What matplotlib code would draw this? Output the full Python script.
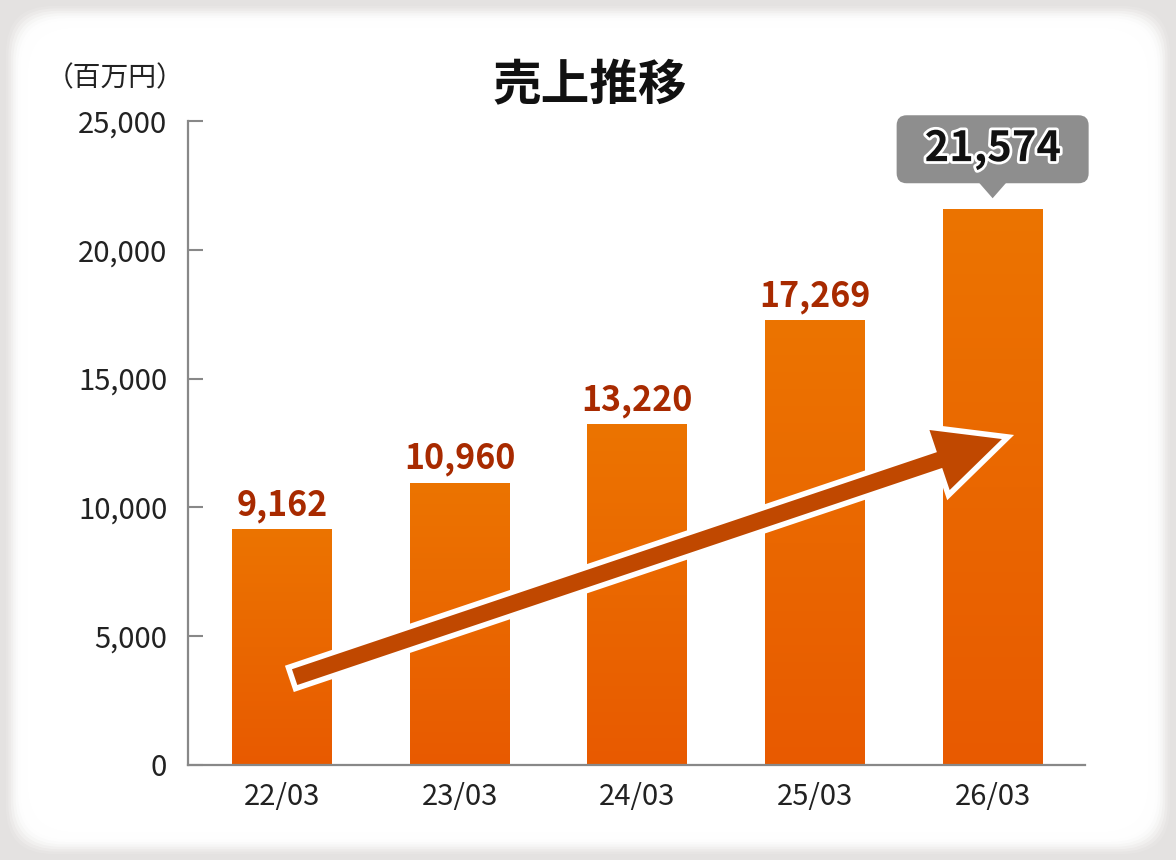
import numpy as np
import matplotlib
matplotlib.use("Agg")
import matplotlib.pyplot as plt
from matplotlib.patches import FancyBboxPatch, Polygon
from matplotlib.transforms import IdentityTransform
import matplotlib.patheffects as pe

years = ["22/03", "23/03", "24/03", "25/03", "26/03"]
sales = [9162, 10960, 13220, 17269, 21574]
yticks = [0, 5000, 10000, 15000, 20000, 25000]

FONT = ["Noto Sans CJK JP", "DejaVu Sans"]
plt.rcParams["font.family"] = FONT

W, H = 1176, 860
fig = plt.figure(figsize=(W / 100, H / 100), dpi=100)
fig.patch.set_facecolor("#e4e2e1")

# soft white panel with blurred edge
for i, a in enumerate(np.linspace(0.12, 1.0, 10)):
    inset = 6 + i * 2.4
    p = FancyBboxPatch((inset / W, inset / H), 1 - 2 * inset / W, 1 - 2 * inset / H,
                       boxstyle="round,pad=0,rounding_size=0.04",
                       transform=fig.transFigure, facecolor="white",
                       edgecolor="none", alpha=a, zorder=-5,
                       mutation_aspect=W / H)
    fig.patches.append(p)

ax = fig.add_axes([188 / W, 95 / H, (1085 - 188) / W, (765 - 121) / H])
ax.set_facecolor("none")

x = np.arange(len(years))
bars = ax.bar(x, sales, width=0.5625, color="#ea6a00", zorder=2)

# vertical gradient inside each bar
grad = np.linspace(0, 1, 256).reshape(-1, 1)
cmap = matplotlib.colors.LinearSegmentedColormap.from_list("g", ["#e85a00", "#ec7400"])
for b in bars:
    x0, w, h = b.get_x(), b.get_width(), b.get_height()
    im = ax.imshow(grad, extent=(x0, x0 + w, 0, h), origin="lower", aspect="auto",
                   cmap=cmap, zorder=2.1)
    im.set_clip_path(b)

ax.set_xlim(-0.53, 4.52)
ax.set_ylim(0, 25000)
ax.set_xticks(x)
ax.set_xticklabels(years)
ax.set_yticks(yticks)
ax.set_yticklabels([f"{v:,}" for v in yticks])
ax.tick_params(axis="y", direction="in", length=11, width=1.5, color="#888888",
               pad=15, labelsize=21, labelcolor="#222222")
ax.tick_params(axis="x", length=0, pad=12, labelsize=21, labelcolor="#222222")
for s in ["top", "right"]:
    ax.spines[s].set_visible(False)
for s in ["left", "bottom"]:
    ax.spines[s].set_color("#888888")
    ax.spines[s].set_linewidth(1.6)
    ax.spines[s].set_zorder(3)

# value labels
for xi, v in zip(x[:-1], sales[:-1]):
    ax.annotate(f"{v:,}", (xi, v), xytext=(0, 10), textcoords="offset points",
                ha="center", va="baseline", fontsize=24.5, fontweight="bold",
                color="#a82a00", zorder=5)

fig.text(590 / W, 1 - 86 / H, "売上推移", ha="center", va="center",
         fontsize=35, fontweight="bold", color="#111111")
fig.text(115 / W, 1 - 78 / H, "（百万円）", ha="center", va="center",
         fontsize=20, color="#222222")

# callout over last bar
px, py = ax.transData.transform((x[-1], sales[-1]))
py = H - py  # pixel from top
bx0, bx1 = px - 96, px + 96
by0, by1 = py - 94, py - 26
tip = py - 11
box = FancyBboxPatch((bx0, H - by1), bx1 - bx0, by1 - by0,
                     boxstyle="round,pad=0,rounding_size=10",
                     transform=IdentityTransform(), facecolor="#8e8e8e",
                     edgecolor="none", zorder=6)
fig.patches.append(box)
tri = Polygon([(px - 14, H - by1 + 1), (px + 14, H - by1 + 1), (px, H - tip)],
              closed=True, transform=IdentityTransform(), facecolor="#8e8e8e",
              edgecolor="none", zorder=6)
fig.patches.append(tri)
fig.text(px / W, 1 - (by0 + by1) / 2 / H, f"{sales[-1]:,}", ha="center", va="center",
         fontsize=30, fontweight="bold", color="#111111", zorder=7,
         path_effects=[pe.withStroke(linewidth=4, foreground="white")])

# trend arrow
ax.annotate("", xy=(1008, H - 437), xycoords="figure pixels",
            xytext=(292, H - 678), textcoords="figure pixels",
            arrowprops=dict(arrowstyle="simple,head_length=2.7,head_width=2.6,tail_width=0.8",
                            mutation_scale=20, facecolor="#c04800", edgecolor="white",
                            linewidth=4, shrinkA=0, shrinkB=0, joinstyle="miter"),
            zorder=8)

fig.savefig("out.png", dpi=100, facecolor=fig.get_facecolor())
